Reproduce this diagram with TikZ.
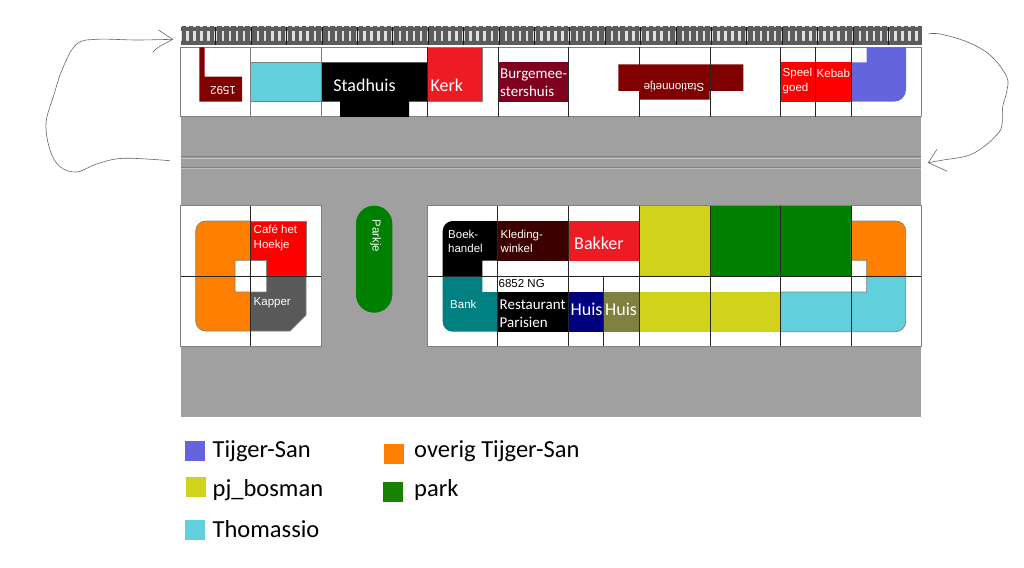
\documentclass[tikz,border=0pt]{standalone}
\usepackage{fontspec}
\setmainfont{Carlito}
\newfontfamily\arialfont{Liberation Sans}
\definecolor{roadgray}{HTML}{A0A0A0}
\definecolor{trackgray}{HTML}{5C5C5C}
\definecolor{tijgerblue}{HTML}{6464DC}
\definecolor{thomcyan}{HTML}{62D0DC}
\definecolor{pjyellow}{HTML}{D0D21C}
\definecolor{parkgreen}{HTML}{008000}
\definecolor{overigorange}{HTML}{FF8000}
\definecolor{kerkred}{HTML}{ED1C24}
\definecolor{burgred}{HTML}{800020}
\definecolor{statred}{HTML}{800000}
\definecolor{kledred}{HTML}{3C0000}
\definecolor{kappergray}{HTML}{595959}
\definecolor{huisolive}{HTML}{808040}
\begin{document}
\begin{tikzpicture}[x=1pt,y=-1pt,
    lot/.style={draw=gray,line width=0.7pt},
    plain/.style={draw=none,line width=0pt},
    gridline/.style={draw=black!85,line width=1pt},
    handline/.style={draw=black!60,line width=0.6pt},
    label/.style={text=white,font=\fontsize{18}{20}\selectfont,align=left,inner sep=0pt,text depth=0pt},
    small/.style={text=white,font=\fontsize{15}{18}\selectfont,align=left,inner sep=0pt},
    tiny/.style={text=white,font=\arialfont\fontsize{11.5}{14.5}\selectfont,align=left,inner sep=0pt},
    legendbox/.style={minimum size=20pt,inner sep=0pt},
    legendtext/.style={font=\fontsize{24.5}{26}\selectfont,anchor=west,inner sep=0pt}]
\useasboundingbox (0,0) rectangle (1024,567);
% ground
\fill[roadgray] (180.7,117) rectangle (921,417);
\draw[lot,fill=white] (180.7,47.3) rectangle (921,116.7);
\draw[lot,fill=white] (180.7,205.7) rectangle (321.3,346);
\draw[lot,fill=white] (427.7,205.7) rectangle (921,346);
\draw[black!50,line width=0.7pt] (181,156.5) -- (921,156.5) (181,167) -- (921,167);
\draw[black!25,line width=0.6pt] (181,157.8) -- (921,157.8) (181,168.2) -- (921,168.2);
% track
\fill[black!12] (181,27) rectangle (921,45);
\fill[trackgray] (181,27) rectangle (921,31) (181,41) rectangle (921,45);
\foreach \x in {0,...,104} {
    \fill[trackgray] (181.5+\x*7.08,26.5) rectangle ++(4.6,19);
}
\foreach \x in {1,...,20} {
    \draw[black!90,line width=0.8pt] (180.4+\x*35.4,27) -- ++(0,18);
}
% top row
\fill[statred] (199.3,47.3) -- (204.7,47.3) -- (204.7,76.7) -- (242,76.7) -- (242,101.7) -- (199.3,101.7) -- cycle;
\node[tiny,rotate=180] (num) at (223,90) {1592};
\draw[lot,fill=thomcyan] (250.7,62.3) rectangle (321.7,101.7);
\fill[black] (321.7,62.3) -- (427.3,62.3) -- (427.3,101.7) -- (409,101.7) -- (409,117) -- (340,117) -- (340,101.7) -- (321.7,101.7) -- cycle;
\node[label] (stadhuis) at (364.5,85) {Stadhuis};
\draw[lot,fill=kerkred] (427.3,47.3) rectangle (482,101.7);
\node[label,anchor=west] (kerk) at (430.5,85) {Kerk};
\fill[burgred] (498,62.3) rectangle (568.5,101.7);
\node[small,anchor=west] (burg) at (500,83) {Burgemee-\\stershuis};
\fill[statred] (618.3,64.3) rectangle (743.3,91) (639.3,64.3) rectangle (709.7,99.7);
\node[tiny,rotate=180] (station) at (674,86.5) {Stationnetje};
\fill[red] (780.7,62.3) rectangle (851,101.7);
\node[tiny,anchor=west] (speel) at (782.5,81) {Speel\\goed};
\node[tiny,anchor=west] (kebab) at (816.5,73) {Kebab};
\fill[tijgerblue] (866.7,47.3) -- (906,47.3) -- (906,89.7) arc (0:-90:12 and -12) -- (851,101.7) -- (851,62.3) -- (866.7,62.3) -- cycle;
% left block
\draw[lot,fill=overigorange] (250.7,221) -- (205.7,221) arc (90:180:10 and -10) -- (195.7,321) arc (180:270:10 and -10) -- (250.7,331) -- (250.7,292) -- (235,292) -- (235,260.3) -- (250.7,260.3) -- cycle;
\draw[lot,fill=red] (250.7,221) -- (306,221) -- (306,276.3) -- (266.7,276.3) -- (266.7,260.3) -- (250.7,260.3) -- cycle;
\draw[lot,fill=kappergray] (266.7,276.3) -- (306,276.3) -- (306,315) -- (290,331) -- (250.7,331) -- (250.7,292) -- (266.7,292) -- cycle;
\node[tiny,anchor=west] (cafe) at (253.5,238) {Caf\'e het\\Hoekje};
\node[tiny,anchor=west] (kapper) at (253.5,303) {Kapper};
% park
\draw[plain,fill=parkgreen,rounded corners=18pt] (356,205.7) rectangle (392.3,312.7);
\node[tiny,rotate=-90] (parkje) at (375.7,235.7) {Parkje};
% right block
\fill[black] (498,221) -- (452.7,221) arc (90:180:10 and -10) -- (442.7,276.3) -- (482.3,276.3) -- (482.3,260.7) -- (498,260.7) -- cycle;
\fill[teal] (442.7,276.3) -- (482.3,276.3) -- (482.3,292) -- (498,292) -- (498,331.7) -- (452.7,331.7) arc (270:180:10 and -10) -- cycle;
\fill[kledred] (498,221) rectangle (568.5,260.7);
\fill[kerkred] (568.5,221) rectangle (639,260.7);
\fill[pjyellow] (639,205.7) rectangle (710,276.3);
\fill[parkgreen] (710,205.7) rectangle (851,276.3);
\fill[black] (498,292) rectangle (568.5,331.7);
\fill[blue!50!black] (568.5,292) rectangle (603.7,331.7);
\fill[huisolive] (603.7,292) rectangle (639,331.7);
\fill[pjyellow] (639,292) rectangle (780.5,331.7);
\draw[lot,fill=overigorange] (851,221) -- (895.7,221) arc (90:0:10 and -10) -- (905.7,276.3) -- (866.7,276.3) -- (866.7,260.3) -- (851,260.3) -- cycle;
\draw[lot,fill=thomcyan] (780.5,292) -- (866.7,292) -- (866.7,276.3) -- (905.7,276.3) -- (905.7,321.7) arc (0:-90:10 and -10) -- (780.5,331.7) -- cycle;
\node[tiny,anchor=west] (boek) at (448,241.5) {Boek-\\handel};
\node[tiny,anchor=west] (kled) at (500.5,241.5) {Kleding-\\winkel};
\node[label,anchor=west] (bakker) at (574,243.5) {Bakker};
\node[tiny,anchor=west] (bank) at (450,304) {Bank};
\node[tiny,anchor=west,text=black] (zip) at (498.5,284) {6852 NG};
\node[small,anchor=west] (rest) at (499.5,313.5) {Restaurant\\Parisien};
\node[label,anchor=center] (huisa) at (586.5,309.5) {Huis};
\node[label,anchor=center] (huisb) at (621,309) {Huis};
% grid lines
\draw[gridline] (181,276.3) -- (321.3,276.3) (428,276.3) -- (921,276.3);
\draw[gridline] (250.7,205.7) -- (250.7,346);
\foreach \x in {497.7,568.5,639,710,780.5,851} {
    \draw[gridline] (\x,205.7) -- (\x,346);
}
\draw[gridline] (603.7,276.3) -- (603.7,346);
\foreach \x in {250.7,321.7} {
    \draw[lot] (\x,47.3) -- (\x,117);
}
\foreach \x in {427.3,498,568.5,639,710,780.5,815.5,851} {
    \draw[gridline] (\x,47.3) -- (\x,117);
}
% arrows
\draw[handline] plot[smooth,tension=0.6] coordinates {(170,160.7) (123.3,158.3) (96.7,164) (76.7,172) (60,166.7) (50,150) (46,123.3) (53.3,96.7) (63.3,66.7) (76.7,44) (96.7,39.3) (136.7,40) (172.7,39.3)};
\draw[handline] (158.3,30) -- (172.7,39.3) .. controls (165,44) and (158,46) .. (152.7,52.3);
\draw[handline] plot[smooth,tension=0.6] coordinates {(928.3,34) (940,34) (966.7,41.7) (990,55) (1006.7,76.7) (1006.7,91.7) (1002.7,106.7) (1001.7,126.7) (995,136.7) (981.7,148.3) (966.7,156) (943.3,160) (928.3,162.7)};
\draw[handline] (937,149.3) -- (928.3,162.7) -- (947.3,171.3);
% legend
\node[legendbox,fill=tijgerblue] (boxa) at (195,451) {};
\node[legendtext] (texta) at (212.5,451) {Tijger-San};
\node[legendbox,fill=pjyellow] (boxb) at (196,487) {};
\node[legendtext] (textb) at (212.5,490) {pj\_bosman};
\node[legendbox,fill=thomcyan] (boxc) at (195,530) {};
\node[legendtext] (textc) at (212.5,529.5) {Thomassio};
\node[legendbox,fill=overigorange] (boxd) at (394,454) {};
\node[legendtext] (textd) at (414,451) {overig Tijger-San};
\node[legendbox,fill=parkgreen!90!orange] (boxe) at (393,492) {};
\node[legendtext] (texte) at (414,490) {park};
\end{tikzpicture}
\end{document}
